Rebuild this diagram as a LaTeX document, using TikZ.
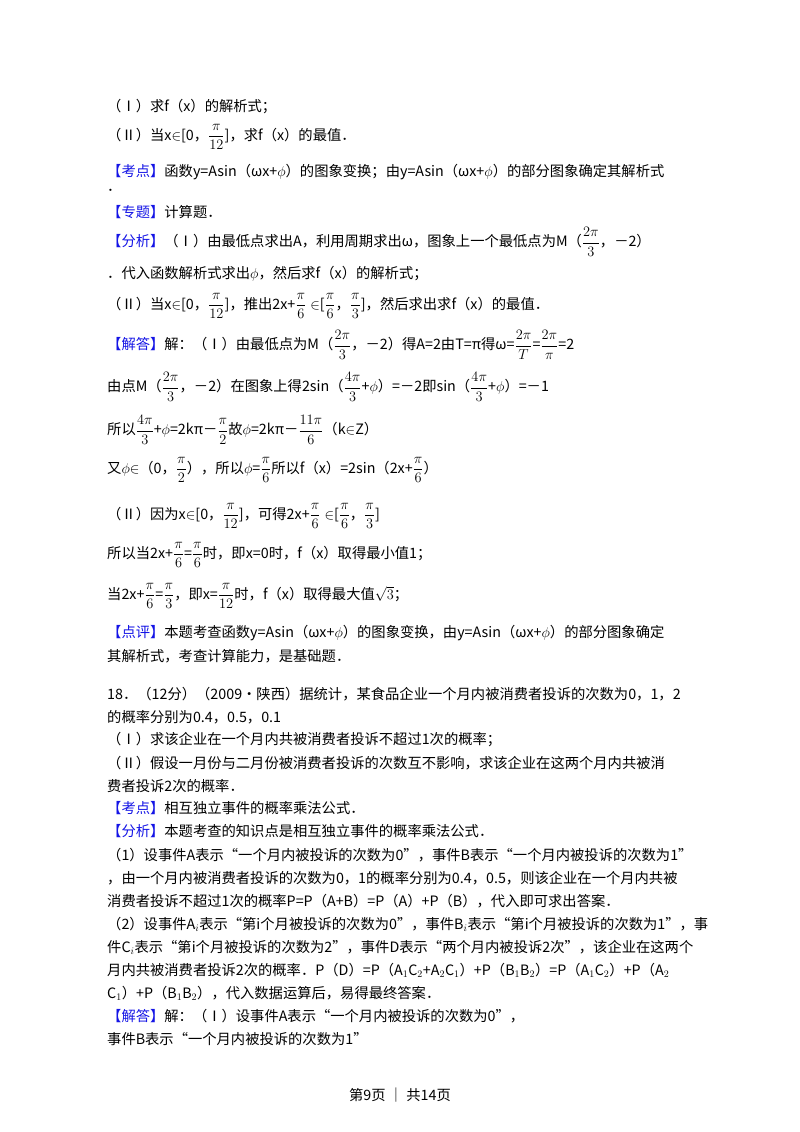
\documentclass[tikz,border=0pt]{standalone}
\usepackage{amsmath}
\usepackage{fontspec}
\setmainfont{Noto Sans CJK SC}
\definecolor{kblue}{RGB}{20,20,230}
\newcommand\KD[1]{{\color{kblue}【#1】}}
\newcommand\PH{$\phi$}
\newcommand\TL[3]{\node[txt] (#1) at (107pt,-#2pt) {#3};}
\tikzset{txt/.style={anchor=west,inner sep=0pt,font=\fontsize{14.3pt}{17pt}\selectfont}}
\begin{document}
\begin{tikzpicture}
\useasboundingbox[fill=white] (0,0) rectangle (800pt,-1132pt);
\TL{l1}{107}{（Ⅰ）求f（x）的解析式；}
\TL{l2}{137}{（Ⅱ）当x$\in$[0，$\dfrac{\pi}{12}$]，求f（x）的最值．}
\TL{l3}{172}{\KD{考点}函数y=Asin（ωx+\PH）的图象变换；由y=Asin（ωx+\PH）的部分图象确定其解析式}
\TL{l4}{190}{．}
\TL{l5}{212}{\KD{专题}计算题．}
\TL{l6}{242}{\KD{分析}（Ⅰ）由最低点求出A，利用周期求出ω，图象上一个最低点为M（$\dfrac{2\pi}{3}$，－2）}
\TL{l7}{274}{．代入函数解析式求出\PH，然后求f（x）的解析式；}
\TL{l8}{306}{（Ⅱ）当x$\in$[0，$\dfrac{\pi}{12}$]，推出2x+$\dfrac{\pi}{6}\in$[$\dfrac{\pi}{6}$，$\dfrac{\pi}{3}$]，然后求出求f（x）的最值．}
\TL{l9}{345}{\KD{解答}解：（Ⅰ）由最低点为M（$\dfrac{2\pi}{3}$，－2）得A=2由T=π得ω=$\dfrac{2\pi}{T}$=$\dfrac{2\pi}{\pi}$=2}
\TL{l10}{387}{由点M（$\dfrac{2\pi}{3}$，－2）在图象上得2sin（$\dfrac{4\pi}{3}$+\PH）=－2即sin（$\dfrac{4\pi}{3}$+\PH）=－1}
\TL{l11}{430}{所以$\dfrac{4\pi}{3}$+\PH=2kπ－$\dfrac{\pi}{2}$故\PH=2kπ－$\dfrac{11\pi}{6}$（k$\in$Z）}
\TL{l12}{470}{又\PH$\in$（0，$\dfrac{\pi}{2}$），所以\PH=$\dfrac{\pi}{6}$所以f（x）=2sin（2x+$\dfrac{\pi}{6}$）}
\TL{l13}{516}{（Ⅱ）因为x$\in$[0，$\dfrac{\pi}{12}$]，可得2x+$\dfrac{\pi}{6}\in$[$\dfrac{\pi}{6}$，$\dfrac{\pi}{3}$]}
\TL{l14}{555}{所以当2x+$\dfrac{\pi}{6}$=$\dfrac{\pi}{6}$时，即x=0时，f（x）取得最小值1；}
\TL{l15}{596}{当2x+$\dfrac{\pi}{6}$=$\dfrac{\pi}{3}$，即x=$\dfrac{\pi}{12}$时，f（x）取得最大值$\sqrt{3}$；}
\TL{l16}{633}{\KD{点评}本题考查函数y=Asin（ωx+\PH）的图象变换，由y=Asin（ωx+\PH）的部分图象确定}
\TL{l17}{656}{其解析式，考查计算能力，是基础题．}
\TL{l18}{694}{18．（12分）（2009•陕西）据统计，某食品企业一个月内被消费者投诉的次数为0，1，2}
\TL{l19}{717}{的概率分别为0.4，0.5，0.1}
\TL{l20}{740}{（Ⅰ）求该企业在一个月内共被消费者投诉不超过1次的概率；}
\TL{l21}{763}{（Ⅱ）假设一月份与二月份被消费者投诉的次数互不影响，求该企业在这两个月内共被消}
\TL{l22}{786}{费者投诉2次的概率．}
\TL{l23}{808}{\KD{考点}相互独立事件的概率乘法公式．}
\TL{l24}{831}{\KD{分析}本题考查的知识点是相互独立事件的概率乘法公式．}
\TL{l25}{855}{（1）设事件A表示“一个月内被投诉的次数为0”，事件B表示“一个月内被投诉的次数为1”}
\TL{l26}{878}{，由一个月内被消费者投诉的次数为0，1的概率分别为0.4，0.5，则该企业在一个月内共被}
\TL{l27}{901}{消费者投诉不超过1次的概率P=P（A+B）=P（A）+P（B），代入即可求出答案．}
\TL{l28}{924}{（2）设事件A$_i$表示“第i个月被投诉的次数为0”，事件B$_i$表示“第i个月被投诉的次数为1”，事}
\TL{l29}{947}{件C$_i$表示“第i个月被投诉的次数为2”，事件D表示“两个月内被投诉2次”，该企业在这两个}
\TL{l30}{970}{月内共被消费者投诉2次的概率．P（D）=P（A$_1$C$_2$+A$_2$C$_1$）+P（B$_1$B$_2$）=P（A$_1$C$_2$）+P（A$_2$}
\TL{l31}{993}{C$_1$）+P（B$_1$B$_2$），代入数据运算后，易得最终答案．}
\TL{l32}{1016}{\KD{解答}解：（Ⅰ）设事件A表示“一个月内被投诉的次数为0”，}
\TL{l33}{1039}{事件B表示“一个月内被投诉的次数为1”}
\node[txt,anchor=center] (foot) at (400pt,-1095pt) {第9页 ｜ 共14页};
\end{tikzpicture}
\end{document}
